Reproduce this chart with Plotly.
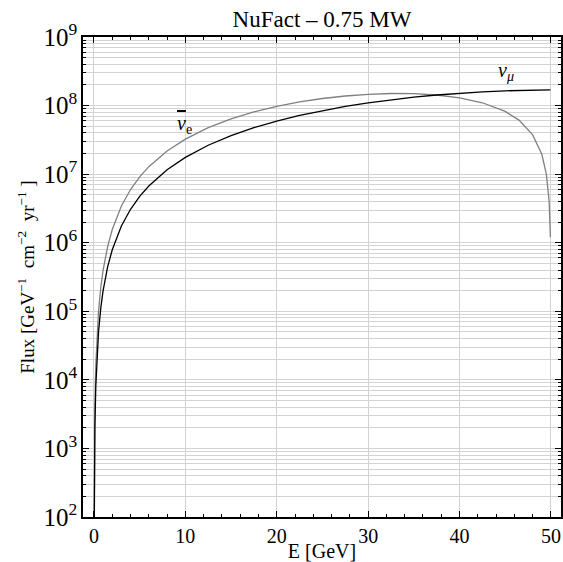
import plotly.graph_objects as go

# Energy grid [GeV]
energy = [0.01, 0.02, 0.05, 0.1, 0.2, 0.35, 0.5, 0.75, 1, 1.5, 2, 3, 4, 5, 6, 8, 10,
          12.5, 15, 17.5, 20, 22.5, 25, 27.5, 30, 32.5, 35, 37.5, 40, 42.5, 45,
          46.5, 48, 49, 49.5, 49.8, 49.94]

# nu_mu flux (black)
flux_numu = [20.3, 81.1, 507, 2028, 8090, 24730, 50360, 112900, 200100, 447200,
             789600, 1.752e6, 3.072e6, 4.732e6, 6.717e6, 1.159e7, 1.758e7,
             2.641e7, 3.650e7, 4.761e7, 5.949e7, 7.187e7, 8.45e7, 9.713e7,
             1.095e8, 1.214e8, 1.325e8, 1.426e8, 1.514e8, 1.587e8, 1.643e8,
             1.666e8, 1.682e8, 1.688e8, 1.6895e8, 1.69e8, 1.69e8]

# anti-nu_e flux (gray)
flux_nuebar = [40.6, 162, 1014, 4048, 16160, 49340, 100390, 224700, 397500, 885200,
               1.5575e6, 3.431e6, 5.970e6, 9.126e6, 1.285e7, 2.181e7, 3.245e7,
               4.753e7, 6.388e7, 8.074e7, 9.734e7, 1.129e8, 1.2675e8, 1.380e8,
               1.460e8, 1.4994e8, 1.4906e8, 1.426e8, 1.298e8, 1.099e8, 8.213e7,
               6.139e7, 3.738e7, 1.948e7, 9.938e6, 4.024e6, 1.214e6]

serif = "Liberation Serif, Times New Roman, serif"

fig = go.Figure()
fig.add_trace(go.Scatter(x=energy, y=flux_nuebar, mode="lines",
                         line=dict(color="#808080", width=1.3), showlegend=False))
fig.add_trace(go.Scatter(x=energy, y=flux_numu, mode="lines",
                         line=dict(color="black", width=1.3), showlegend=False))

fig.add_annotation(x=45.1, y=8.50, xref="x", yref="y", text="<i>ν<sub>μ</sub></i>",
                   showarrow=False, font=dict(family=serif, size=20, color="black"))
fig.add_annotation(x=9.9, y=7.72, xref="x", yref="y",
                   text="<span style='text-decoration:overline'><i>ν</i></span><sub>e</sub>",
                   showarrow=False, font=dict(family=serif, size=20, color="black"))

fig.update_layout(
    width=563, height=562,
    margin=dict(l=83, r=2, t=37, b=45, autoexpand=False),
    paper_bgcolor="white", plot_bgcolor="white",
    font=dict(family=serif, size=20, color="black"),
    title=dict(text="NuFact – 0.75 MW", xref="paper", x=0.5, xanchor="center",
               yref="container", y=0.967, yanchor="middle",
               font=dict(family=serif, size=23, color="black")),
    xaxis=dict(range=[-1.2, 51.1], tickmode="array", tickvals=[0, 10, 20, 30, 40, 50],
               automargin=False,
               showgrid=True, gridcolor="#d3d3d3", gridwidth=1,
               showline=True, linecolor="black", linewidth=1.5, mirror="allticks",
               ticks="inside", ticklen=6, tickcolor="black",
               tickfont=dict(family=serif, size=20),
               minor=dict(tickvals=[2, 4, 6, 8, 12, 14, 16, 18, 22, 24, 26, 28,
                                    32, 34, 36, 38, 42, 44, 46, 48],
                          ticks="inside", ticklen=3, tickcolor="black", showgrid=False),
               zeroline=False,
               title=dict(text="E [GeV]", font=dict(family=serif, size=20), standoff=2)),
    yaxis=dict(type="log", range=[2, 9], dtick=1, exponentformat="power",
               automargin=False,
               showgrid=True, gridcolor="#d3d3d3", gridwidth=1,
               showline=True, linecolor="black", linewidth=1.5, mirror="allticks",
               ticks="inside", ticklen=6, tickcolor="black",
               tickfont=dict(family=serif, size=20),
               minor=dict(dtick="D1", ticks="inside", ticklen=3, tickcolor="black",
                          showgrid=True, gridcolor="#d3d3d3", gridwidth=1),
               zeroline=False,
               title=dict(text="Flux [GeV<sup>−1</sup>  cm<sup>−2</sup>  yr<sup>−1</sup> ]",
                          font=dict(family=serif, size=19), standoff=4)),
)

fig.write_html("out.html", config={"displayModeBar": False},
               post_script="document.body.style.margin='0';document.body.style.overflow='hidden';")
